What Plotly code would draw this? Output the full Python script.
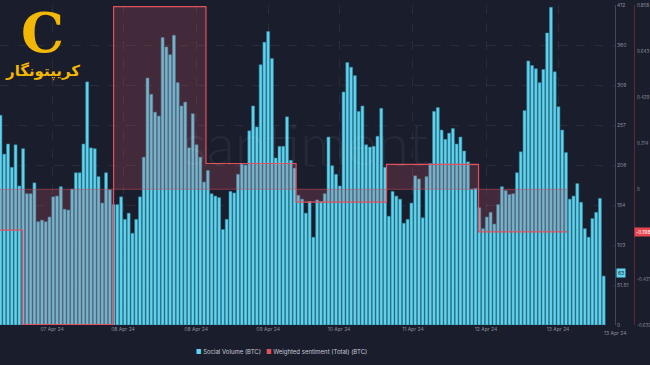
import plotly.graph_objects as go

# Hourly social volume (BTC)
volume = [270, 220, 233, 203, 232, 179, 227, 169, 169, 183,
          133, 135, 133, 139, 165, 166, 178, 149, 148, 175,
          196, 196, 233, 313, 228, 227, 191, 157, 196, 174,
          155, 155, 165, 136, 144, 118, 136, 165, 216, 318,
          297, 274, 269, 370, 358, 348, 373, 312, 282, 287,
          228, 272, 232, 216, 184, 199, 169, 166, 164, 123,
          136, 172, 170, 194, 207, 206, 250, 282, 255, 335,
          364, 378, 343, 215, 230, 230, 268, 212, 202, 167,
          162, 144, 159, 113, 161, 159, 169, 242, 205, 194,
          179, 300, 338, 332, 321, 275, 282, 232, 229, 230,
          243, 279, 203, 140, 172, 166, 162, 131, 136, 157,
          192, 188, 138, 191, 208, 275, 280, 251, 239, 247,
          253, 233, 242, 224, 210, 175, 176, 151, 124, 139,
          145, 130, 155, 178, 173, 168, 169, 196, 223, 276,
          340, 334, 330, 312, 329, 376, 409, 326, 281, 251,
          222, 162, 166, 182, 158, 124, 113, 137, 145, 163,
          63]
hours = list(range(len(volume)))

# Daily weighted sentiment (step), with the hour index where each day starts
sent_values = [-0.19, -0.63, 0.85, 0.12, -0.06, 0.116, -0.198]
sent_starts = [-18, 5.8, 30, 54.5, 78.4, 102.4, 126.8]
sent_end = 150.3

x_tick_pos = [13.7, 32.5, 51.9, 71.0, 89.8, 109.4, 128.8, 147.9]
x_tick_text = ["07 Apr 24", "08 Apr 24", "08 Apr 24", "09 Apr 24", "10 Apr 24",
               "11 Apr 24", "12 Apr 24", "13 Apr 24"]
end_label = "13 Apr 24"

vol_ticks = [0, 51.5, 103, 154.5, 206, 257.5, 309, 360.5, 412]
vol_tick_text = ["0", "51.51", "103", "154", "206", "257", "309", "360", "412"]
sent_ticks = [-0.632, -0.421, -0.211, 0, 0.214, 0.429, 0.643, 0.858]
sent_tick_text = ["-0.632", "-0.421", "-0.211", "0", "0.214", "0.429", "0.643", "0.858"]

series_names = ["Social Volume (BTC)", "Weighted sentiment (Total) (BTC)"]

BG = "#1a1d2c"
CYAN = "#62d3ee"
RED = "#e0505d"
FONT = "Inter"
TICK = "#8a8f9e"

fig = go.Figure()

fig.add_trace(go.Bar(
    x=hours, y=volume, name=series_names[0],
    marker=dict(color=CYAN, line=dict(color="#2f8aa3", width=0.6)),
    yaxis="y", showlegend=False,
))

sx = sent_starts + [sent_end]
sy = sent_values + [sent_values[-1]]
fig.add_trace(go.Scatter(
    x=[sx[0], sx[-1]], y=[0, 0], mode="lines",
    line=dict(color="rgba(200,80,95,0.55)", width=1),
    yaxis="y2", showlegend=False, hoverinfo="skip",
))
fig.add_trace(go.Scatter(
    x=sx, y=sy, mode="lines", line_shape="hv",
    line=dict(color=RED, width=1.2),
    fill="tozeroy", fillcolor="rgba(190,85,100,0.25)",
    name=series_names[1], yaxis="y2", showlegend=False,
))

W, H = 650, 365
L, R, T, B = 0, 2, 5, 40
plot_w = W - L - R
plot_h = H - T - B
x_end = 615 / plot_w
sent_axis_pos = 634 / plot_w


def px_x(px):
    return (px - L) / plot_w


def px_y(py):
    return (H - B - py) / plot_h


fig.update_layout(
    width=W, height=H,
    margin=dict(l=L, r=R, t=T, b=B, autoexpand=False),
    paper_bgcolor=BG, plot_bgcolor=BG,
    font=dict(family=FONT, color=TICK, size=5),
    bargap=0.22,
    showlegend=False,
    xaxis=dict(
        domain=[0, x_end], range=[-0.13, 163.0],
        tickvals=x_tick_pos, ticktext=x_tick_text,
        showgrid=True, gridcolor="rgba(255,255,255,0.07)", griddash="dash", gridwidth=1,
        zeroline=False, showline=False, ticks="", tickfont=dict(size=5, color=TICK),
        automargin=False,
    ),
    yaxis=dict(
        range=[0, 412], side="right", anchor="x",
        tickvals=vol_ticks, ticktext=vol_tick_text,
        showgrid=True, gridcolor="rgba(255,255,255,0.07)", griddash="dash",
        zeroline=False, showline=True, linecolor="#3b4b60", linewidth=1,
        ticks="", tickfont=dict(size=5, color=TICK), automargin=False,
    ),
    yaxis2=dict(
        range=[-0.632, 0.858], overlaying="y", side="right", anchor="free",
        position=sent_axis_pos,
        tickvals=sent_ticks, ticktext=sent_tick_text,
        showgrid=False, zeroline=False, showline=True, linecolor="#5e2731", linewidth=1,
        ticks="", tickfont=dict(size=4.5, color=TICK), automargin=False,
        ticklabelstandoff=1,
    ),
)

# legend as text
fig.add_annotation(
    text=(f"<span style='color:{CYAN}'>■</span> {series_names[0]}   "
          f"<span style='color:{RED}'>■</span> {series_names[1]}"),
    x=px_x(281), y=px_y(352), xref="paper", yref="paper",
    xanchor="center", yanchor="middle", showarrow=False,
    font=dict(size=6, color="#c6cad4"),
)

# watermark
fig.add_annotation(
    text="santiment", x=px_x(305), y=px_y(142), xref="paper", yref="paper",
    xanchor="center", yanchor="middle",
    showarrow=False, font=dict(size=58, color="rgba(255,255,255,0.055)", family="Lato", weight=300),
)

# end date label under right axis
fig.add_annotation(
    text=end_label, x=x_end, y=px_y(333), xref="paper", yref="paper",
    xanchor="center", yanchor="middle",
    showarrow=False, font=dict(size=5, color=TICK),
)

# last value markers
fig.add_annotation(
    text=str(volume[-1]), x=x_end, xref="paper", y=volume[-1], yref="y",
    xanchor="left", yanchor="middle", xshift=1, yshift=3, showarrow=False,
    bgcolor=CYAN, font=dict(size=5, color="#1a1d2c"), borderpad=1,
)
fig.add_annotation(
    text=f"{sent_values[-1]:.3f}", x=sent_axis_pos, xref="paper", y=sent_values[-1], yref="y2",
    xanchor="left", yanchor="middle", xshift=0, showarrow=False,
    bgcolor="#e8464f", font=dict(size=5, color="#ffffff"), borderpad=1,
)

# site logo (top-left)
fig.add_annotation(
    text="<b>C</b>", x=px_x(42), y=px_y(33), xref="paper", yref="paper",
    xanchor="center", yanchor="middle",
    showarrow=False, font=dict(size=54, color="#f3b705", family="DejaVu Serif"),
)
fig.add_annotation(
    text="<b>کریپتونگار</b>", x=px_x(42), y=px_y(71), xref="paper", yref="paper",
    xanchor="center", yanchor="middle",
    showarrow=False, font=dict(size=15, color="#f3b705", family="DejaVu Sans"),
)

fig.write_html(
    "out.html",
    config={"displayModeBar": False},
    post_script="document.body.style.margin='0';document.body.style.background='%s';" % BG,
)
